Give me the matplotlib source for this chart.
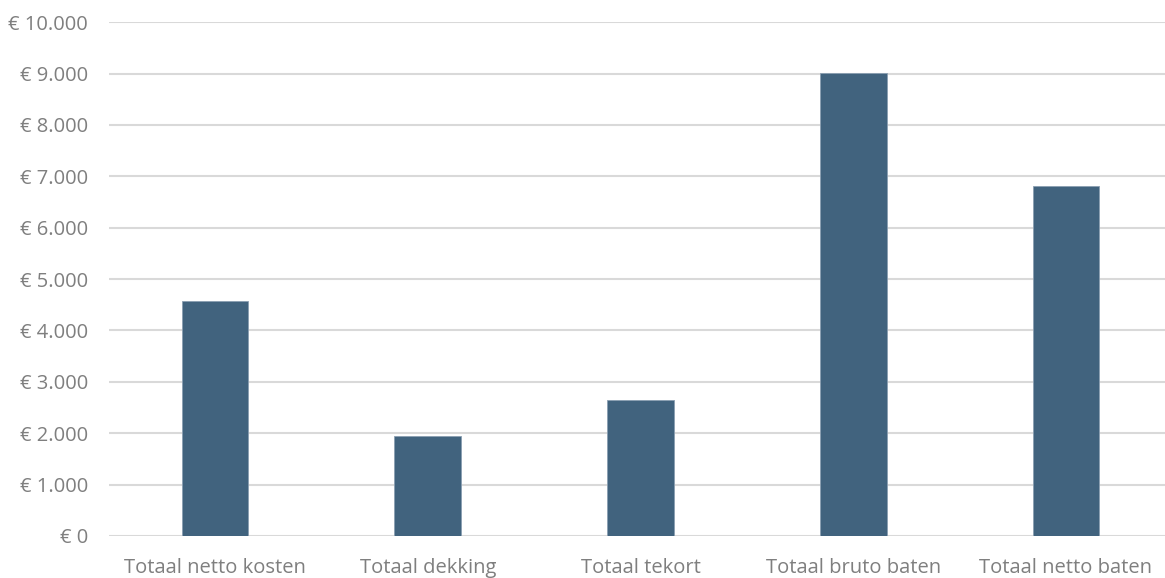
import matplotlib
matplotlib.use('Agg')
import matplotlib.pyplot as plt
from matplotlib.ticker import FuncFormatter

# categories and values (euro)
categories = ['Totaal netto kosten', 'Totaal dekking', 'Totaal tekort', 'Totaal bruto baten', 'Totaal netto baten']
values = [4580, 1950, 2640, 9010, 6820]
yticks = [0, 1000, 2000, 3000, 4000, 5000, 6000, 7000, 8000, 9000, 10000]

plt.rcParams['font.family'] = ['Open Sans', 'DejaVu Sans']

fig = plt.figure(figsize=(11.65, 5.78), dpi=100)
ax = fig.add_axes([0.0933, 0.0727, 0.913, 0.889])

x = range(len(categories))
ax.bar(x, values, width=0.313, color='#41637e', edgecolor='#8a9fb2', linewidth=0.6, zorder=3)

ax.set_xlim(-0.5, len(categories) - 0.5)
ax.set_ylim(0, 10000)
ax.set_yticks(yticks)
ax.yaxis.set_major_formatter(FuncFormatter(lambda v, p: '€ ' + format(int(v), ',').replace(',', '.')))
ax.set_xticks(list(x))
ax.set_xticklabels(categories)

ax.grid(axis='y', color='#d9d9d9', linewidth=1.5, zorder=0)
for s in ax.spines.values():
    s.set_visible(False)
ax.tick_params(axis='both', length=0, labelsize=14.5, labelcolor='#7f7f7f')
ax.tick_params(axis='y', pad=15)
ax.tick_params(axis='x', pad=16)

fig.savefig('out.png', dpi=100)
